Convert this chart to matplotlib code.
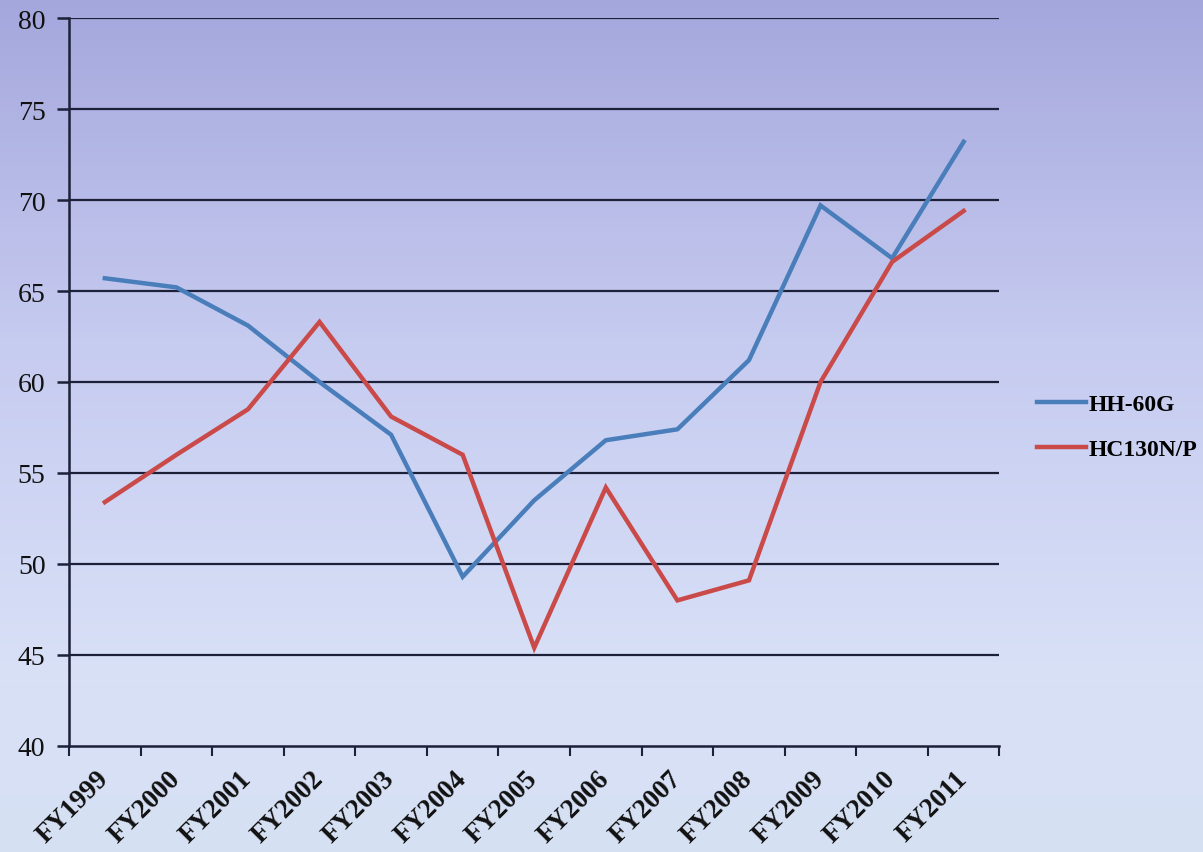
import matplotlib
matplotlib.use('Agg')
from matplotlib import pyplot as plt
from matplotlib.colors import LinearSegmentedColormap
import numpy as np

plt.rcParams['font.family'] = ['Liberation Serif', 'DejaVu Serif']

# data
years = ['FY1999', 'FY2000', 'FY2001', 'FY2002', 'FY2003', 'FY2004', 'FY2005',
         'FY2006', 'FY2007', 'FY2008', 'FY2009', 'FY2010', 'FY2011']
hh60g = [65.7, 65.2, 63.1, 60.0, 57.1, 49.3, 53.5, 56.8, 57.4, 61.2, 69.7, 66.8, 73.2]
hc130 = [53.4, 56.0, 58.5, 63.3, 58.1, 56.0, 45.4, 54.2, 48.0, 49.1, 60.0, 66.6, 69.4]

fig = plt.figure(figsize=(12.03, 8.53), dpi=100)

# lavender gradient background over the whole figure
bg = fig.add_axes([0, 0, 1, 1], zorder=-10)
cmap = LinearSegmentedColormap.from_list('bg', [(0.0, '#a4a7dc'), (0.4, '#c6cbf0'),
                                                (0.8, '#d9e1f7'), (1.0, '#d6e0f3')])
bg.imshow(np.linspace(0, 1, 256).reshape(-1, 1), aspect='auto', cmap=cmap,
          extent=[0, 1, 0, 1])
bg.axis('off')

ax = fig.add_axes([0.0574, 0.1243, 0.7734, 0.8534])
ax.set_facecolor('none')

x = np.arange(len(years))
ax.plot(x, hh60g, color='#4a7ebb', lw=3.2, label='HH-60G', solid_joinstyle='miter', zorder=3)
ax.plot(x, hc130, color='#c94a48', lw=3.2, label='HC130N/P', solid_joinstyle='miter', zorder=3)

ax.set_ylim(40, 80)
ax.set_xlim(-0.5, len(years) - 0.5)
ax.set_yticks(np.arange(40, 81, 5))
for v in np.arange(45, 81, 5):
    ax.axhline(v, color='#1c2038', lw=1.6, zorder=1)

for s in ['top', 'right']:
    ax.spines[s].set_visible(False)
for s in ['left', 'bottom']:
    ax.spines[s].set_color('#1c2038')
    ax.spines[s].set_linewidth(1.8)

# category labels, slanted, hanging below each category centre
ax.set_xticks(x)
ax.set_xticklabels([])
for i, yr in enumerate(years):
    ax.annotate(yr, xy=(x[i], 0), xycoords=('data', 'axes fraction'),
                xytext=(-9, -20), textcoords='offset pixels',
                rotation=45, ha='right', va='top', rotation_mode='anchor',
                fontsize=19.5, fontweight='bold', color='#111111')
ax.set_xticks(np.arange(-0.5, len(years), 1), minor=True)
ax.tick_params(axis='x', which='major', length=0)
ax.tick_params(axis='x', which='minor', length=7, width=1.5, color='#1c2038')
ax.tick_params(axis='y', length=9, width=1.8, color='#1c2038', pad=8,
               labelsize=20, labelcolor='#111111')

leg = ax.legend(loc='center left', bbox_to_anchor=(1.017, 0.438), frameon=False,
                prop={'size': 17, 'weight': 'bold'}, handlelength=2.1,
                handletextpad=0.1, labelspacing=1.0)

plt.savefig('out.png', dpi=100)
